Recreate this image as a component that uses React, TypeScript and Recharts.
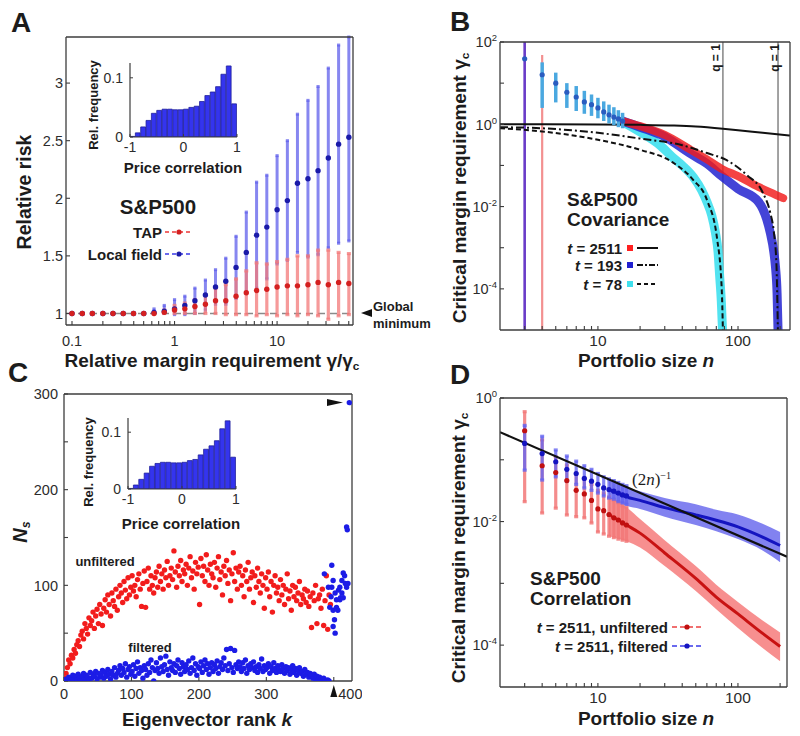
import React from 'react';
import { ComposedChart, Scatter, Line, Area, Bar, XAxis, YAxis, ErrorBar, ReferenceLine } from 'recharts';

const SANS = '"Liberation Sans", Arial, Helvetica, sans-serif';
const SERIF = '"Liberation Serif", "DejaVu Serif", serif';
const AXC = '#3c3c3c';
const TXT = '#1c1c1c';
const TICKC = '#2c2c2c';

// ---------------- Panel A : relative risk ----------------
const aRatio = [0.1, 0.126, 0.158, 0.2, 0.251, 0.316, 0.398, 0.501, 0.631, 0.794, 1, 1.26, 1.58, 2, 2.51, 3.16, 3.98, 5.01, 6.31, 7.94, 10, 12.6, 15.8, 20, 25.1, 31.6, 39.8, 50.1];
const aTapMean = [1, 1, 1, 1, 1, 1, 1, 1, 1, 1.01, 1.03, 1.04, 1.06, 1.08, 1.11, 1.11, 1.15, 1.18, 1.2, 1.21, 1.23, 1.24, 1.24, 1.25, 1.27, 1.25, 1.27, 1.26];
const aTapLow = [1, 1, 1, 1, 1, 1, 1, 1, 1, 1, 1, 1, 1, 1, 1, 0.99, 0.99, 0.99, 0.98, 0.99, 0.98, 0.99, 0.98, 0.99, 0.98, 0.95, 0.98, 0.99];
const aTapHigh = [1, 1, 1, 1, 1, 1, 1, 1, 1.01, 1.03, 1.07, 1.09, 1.12, 1.16, 1.22, 1.25, 1.3, 1.37, 1.44, 1.43, 1.45, 1.47, 1.5, 1.5, 1.55, 1.55, 1.53, 1.52];
const aLocalMean = [1, 1, 1, 1, 1, 1, 1, 1, 1.01, 1.02, 1.04, 1.07, 1.11, 1.16, 1.23, 1.28, 1.4, 1.53, 1.68, 1.75, 1.9, 1.98, 2.13, 2.17, 2.24, 2.35, 2.47, 2.53];
const aLocalLow = [1, 1, 1, 1, 1, 1, 1, 1, 1, 1, 0.99, 0.99, 1, 1.03, 1.08, 1.08, 1.13, 1.18, 1.22, 1.3, 1.43, 1.46, 1.53, 1.49, 1.51, 1.57, 1.61, 1.63];
const aLocalHigh = [1, 1, 1, 1, 1, 1, 1, 1, 1.04, 1.07, 1.12, 1.15, 1.22, 1.29, 1.38, 1.48, 1.67, 1.88, 2.14, 2.2, 2.37, 2.5, 2.73, 2.85, 2.97, 3.13, 3.33, 3.4];
const aXTicks = [0.1, 0.2, 0.3, 0.4, 0.5, 0.6, 0.7, 0.8, 0.9, 1, 2, 3, 4, 5, 6, 7, 8, 9, 10, 20, 30, 40, 50];
const aXLabels = [0.1, 1, 10];
const aYTicks = [1, 1.5, 2, 2.5, 3];

// ---------------- Inset histogram (price correlation) ----------------
const histCenters = [-0.95, -0.85, -0.75, -0.65, -0.55, -0.45, -0.35, -0.25, -0.15, -0.05, 0.05, 0.15, 0.25, 0.35, 0.45, 0.55, 0.65, 0.75, 0.85, 0.95];
const histFreq = [0.001, 0.007, 0.017, 0.028, 0.04, 0.045, 0.047, 0.047, 0.046, 0.046, 0.047, 0.05, 0.052, 0.06, 0.07, 0.076, 0.085, 0.106, 0.12, 0.056];

// ---------------- Panel B : covariance ----------------
const bT2511N = [2, 10, 20, 35, 50, 78, 100, 150, 235];
const bT2511G = [1.0, 0.99, 0.97, 0.93, 0.88, 0.78, 0.72, 0.62, 0.53];
const bT193N = [2, 4, 10, 20, 40, 60, 83, 116, 150, 170, 180, 188, 192.5];
const bT193G = [0.85, 0.8, 0.62, 0.45, 0.31, 0.2, 0.134, 0.058, 0.022, 0.007, 0.0025, 0.0004, 0.00001];
const bT78N = [2, 4, 10, 20, 34, 48, 60, 71, 76.5, 78];
const bT78G = [0.8, 0.67, 0.42, 0.24, 0.12, 0.044, 0.0145, 0.0016, 0.0001, 0.00001];
const bMkN = [3, 4, 5, 6, 7, 8, 9, 10, 11, 12, 13, 14, 15];
const bMkG = [39, 16, 10, 6, 4.6, 3.5, 3.0, 2.5, 2.0, 1.7, 1.5, 1.35, 1.2];
const bMkLo = [39, 2.5, 3.4, 2.5, 2.1, 1.8, 1.6, 1.4, 1.2, 1.05, 0.95, 0.85, 0.8];
const bMkHi = [39, 32, 18, 10, 8.5, 6.5, 5.3, 4.4, 3.6, 3.0, 2.6, 2.2, 1.9];
const bRedN = [15, 20, 30, 45, 60, 78, 100, 140, 170, 210];
const bRedG = [1.2, 0.9, 0.55, 0.25, 0.14, 0.08, 0.055, 0.03, 0.022, 0.016];
const bBlueN = [15, 20, 30, 45, 60, 78, 100, 140, 160, 170, 180, 185, 190, 193];
const bBlueG = [1.2, 0.85, 0.5, 0.2, 0.11, 0.052, 0.027, 0.013, 0.005, 0.0023, 0.0008, 0.00035, 0.00008, 0.00001];
const bCyanN = [15, 20, 28, 34, 40, 48, 55, 60, 65, 69, 72, 74, 76, 77.5];
const bCyanG = [1.15, 0.65, 0.3, 0.16, 0.1, 0.052, 0.025, 0.013, 0.006, 0.0023, 0.0008, 0.0002, 0.00005, 0.00001];
const bXTicks = [3, 4, 5, 6, 7, 8, 9, 10, 20, 30, 40, 50, 60, 70, 80, 90, 100, 200];
const bXLabels = [10, 100];
const bYTicks = [0.0001, 0.001, 0.01, 0.1, 1, 10, 100];
const bYMajors = [-4, -2, 0, 2];

// ---------------- Panel C : eigenvector rank ----------------
const cRankStart = 1;
const cRankStep = 2;
const cUnfiltered = [
  3, 8, 14, 22, 18, 27, 24, 33, 29, 38,
  42, 36, 48, 52, 44, 60, 55, 49, 66, 58,
  63, 72, 55, 68, 75, 60, 80, 70, 58, 76,
  85, 72, 90, 80, 68, 92, 84, 78, 96, 74,
  88, 100, 92, 82, 104, 95, 86, 108, 90, 98,
  110, 94, 100, 88, 106, 112, 96, 78, 102, 115,
  77, 104, 118, 96, 110, 100, 92, 108, 114, 98,
  120, 104, 112, 96, 116, 108, 125, 100, 110, 118,
  106, 136, 114, 98, 120, 110, 126, 104, 116, 112,
  122, 100, 118, 130, 108, 115, 96, 124, 112, 119,
  80, 128, 110, 120, 104, 132, 116, 100, 122, 112,
  108, 124, 98, 118, 130, 106, 114, 90, 120, 110,
  126, 102, 116, 84, 112, 134, 104, 118, 96, 114,
  120, 100, 110, 88, 116, 104, 124, 96, 108, 114,
  82, 110, 98, 118, 104, 92, 112, 100, 76, 108,
  96, 114, 88, 104, 72, 100, 110, 92, 98, 84,
  106, 90, 100, 80, 96, 112, 86, 94, 74, 100,
  88, 98, 84, 92, 104, 80, 90, 86, 96, 82,
  94, 78, 88, 56, 92, 84, 100, 60, 86, 90,
  76, 96, 58, 84, 110, 54, 90, 80,
];
const cFiltered = [
  0, 2, 1, 4, 0, 3, 6, 2, 5, 1,
  7, 3, 0, 5, 8, 2, 6, 4, 1, 9,
  3, 7, 5, 10, 2, 8, 4, 6, 11, 3,
  9, 5, 12, 7, 2, 10, 6, 14, 4, 8,
  11, 16, 6, 13, 9, 18, 4, 12, 15, 7,
  10, 17, 5, 13, 20, 8, 14, 11, 3, 16,
  12, 6, 18, 9, 22, 14, 0, 11, 19, 13,
  8, 24, 15, 10, 17, 26, 12, 6, 20, 14,
  11, 18, 9, 16, 22, 13, 7, 19, 15, 10,
  17, 12, 21, 8, 14, 24, 11, 18, 6, 15,
  13, 20, 9, 16, 22, 12, 18, 7, 14, 19,
  10, 17, 13, 21, 8, 15, 19, 12, 24, 16,
  33, 11, 18, 34, 14, 9, 32, 17, 13, 20,
  15, 10, 19, 13, 22, 8, 16, 12, 18, 14,
  20, 11, 15, 9, 17, 13, 23, 10, 16, 12,
  14, 18, 8, 15, 11, 19, 13, 9, 16, 12,
  10, 17, 13, 8, 15, 11, 14, 7, 12, 16,
  9, 13, 6, 11, 14, 8, 10, 5, 12, 7,
  9, 4, 8, 6, 3, 7, 2, 5, 1, 4,
  2, 0, 3, 1, 0, 1, 0,
];
const cTopRank = [386, 392, 394, 396, 397, 397, 399, 399, 399, 401, 402, 402, 404, 404, 406, 407, 409, 409, 410, 412, 412, 414, 414, 416, 417, 419, 419, 420, 421, 423];
const cTopN = [112, 98, 77, 88, 121, 98, 105, 74, 57, 64, 92, 50, 85, 77, 74, 95, 98, 85, 87, 105, 92, 113, 87, 110, 102, 98, 161, 158, 102, 291];
const cXTicks = [0, 100, 200, 300, 400];
const cYTicks = [0, 50, 100, 150, 200, 250, 300];
const cYLabels = [0, 100, 200, 300];

// ---------------- Panel D : correlation ----------------
const dN = [3, 4, 5, 6, 7, 8, 9, 10, 11, 12, 13, 14, 15, 16];
const dRed = [0.295, 0.08, 0.062, 0.046, 0.032, 0.028, 0.022, 0.016, 0.015, 0.013, 0.0115, 0.0106, 0.0095, 0.0088];
const dRedLo = [0.021, 0.0138, 0.0165, 0.0128, 0.012, 0.0115, 0.0095, 0.0068, 0.0063, 0.0058, 0.0055, 0.0052, 0.005, 0.0048];
const dRedHi = [0.6, 0.21, 0.112, 0.082, 0.06, 0.05, 0.04, 0.032, 0.029, 0.025, 0.022, 0.02, 0.018, 0.017];
const dBlue = [0.184, 0.126, 0.093, 0.07, 0.06, 0.05, 0.045, 0.04, 0.035, 0.033, 0.031, 0.029, 0.027, 0.026];
const dBlueLo = [0.068, 0.047, 0.053, 0.045, 0.04, 0.035, 0.032, 0.029, 0.026, 0.024, 0.023, 0.021, 0.02, 0.019];
const dBlueHi = [0.36, 0.24, 0.144, 0.115, 0.095, 0.08, 0.07, 0.06, 0.053, 0.049, 0.046, 0.043, 0.04, 0.038];
const dBandN = [12, 16, 20, 30, 50, 70, 100, 150, 200];
const dRedMid = [0.013, 0.0088, 0.0065, 0.0031, 0.0012, 0.0006, 0.00032, 0.000155, 0.000095];
const dRedBandLo = [0.0058, 0.0048, 0.0038, 0.0019, 0.00075, 0.00038, 0.00019, 0.00009, 0.000055];
const dRedBandHi = [0.025, 0.017, 0.011, 0.005, 0.0019, 0.00095, 0.0005, 0.00025, 0.00016];
const dBlueMid = [0.033, 0.025, 0.022, 0.0168, 0.0128, 0.0105, 0.0082, 0.0056, 0.0041];
const dBlueBandLo = [0.024, 0.018, 0.016, 0.012, 0.0088, 0.007, 0.0052, 0.0034, 0.0022];
const dBlueBandHi = [0.049, 0.036, 0.031, 0.024, 0.019, 0.0155, 0.013, 0.0092, 0.0068];
const dTheoryN = [2, 224];
const dTheoryG = [0.28, 0.0027];
const dYTicks = [0.0001, 0.001, 0.01, 0.1, 1];
const dYMajors = [-4, -2, 0];

// ---------------- table builders ----------------
const pts = (xs: number[], ys: number[]) => xs.map((x, i) => ({ x, y: ys[i] }));
const errPts = (xs: number[], ys: number[], lo: number[], hi: number[]) =>
  xs.map((x, i) => ({ x, y: ys[i], err: [Math.max(0, ys[i] - lo[i]), Math.max(0, hi[i] - ys[i])] }));
const bandPts = (xs: number[], ys: number[], lo: number[], hi: number[]) => xs.map((x, i) => ({ x, y: ys[i], band: [lo[i], hi[i]] }));
const rankPts = (vals: number[]) => vals.map((v, i) => ({ x: cRankStart + cRankStep * i, y: v }));

const aTapData = errPts(aRatio, aTapMean, aTapLow, aTapHigh);
const aLocalData = errPts(aRatio, aLocalMean, aLocalLow, aLocalHigh);
const histData = histCenters.map((c, i) => ({ c, f: histFreq[i] }));

// ---------------- helpers ----------------
const bottomTick = (fmt: (v: number) => any, fs = 14.5) => (props: any) => {
  const lab = fmt(props.payload.value);
  if (lab === null || lab === undefined) return <g />;
  return (
    <text x={props.x} y={props.y} dy="0.74em" textAnchor="middle" fontSize={fs} fontFamily={SANS} fill={TICKC}>
      {lab}
    </text>
  );
};
const leftTick = (fmt: (v: number) => any, fs = 14.5) => (props: any) => {
  const lab = fmt(props.payload.value);
  if (lab === null || lab === undefined) return <g />;
  return (
    <text x={props.x} y={props.y} dy="0.36em" textAnchor="end" fontSize={fs} fontFamily={SANS} fill={TICKC}>
      {lab}
    </text>
  );
};
const pow10 = (majors: number[]) => (v: number) => {
  const e = Math.round(Math.log10(v));
  if (!majors.includes(e)) return null;
  return (
    <>
      {'10'}
      <tspan dy={-6} fontSize={9.5}>{String(e)}</tspan>
    </>
  );
};
const dot = (fill: string, r: number) => (p: any) => <circle cx={p.cx} cy={p.cy} r={r} fill={fill} />;

const PAD = { l: 56, r: 10, t: 10, b: 36 };

function Panel(p: any) {
  const W = p.w + PAD.l + PAD.r;
  const H = p.h + PAD.t + PAD.b;
  const common = {
    type: 'number' as const,
    allowDataOverflow: true,
    tickSize: -4,
    interval: 0 as const,
    axisLine: { stroke: AXC, strokeWidth: 1.3 },
    tickLine: { stroke: AXC, strokeWidth: 1.1 },
  };
  return (
    <div style={{ position: 'absolute', left: p.x - PAD.l, top: p.y - PAD.t, width: W, height: H }}>
      <ComposedChart width={W} height={H} margin={{ top: 0, right: 0, bottom: 0, left: 0 }}>
        <XAxis xAxisId="b" orientation="bottom" dataKey="x" scale={p.xScale} domain={p.xDomain} ticks={p.xTicks} height={PAD.b} tickMargin={p.xGap} tick={p.xTick || bottomTick(p.xLabel, p.xFs || 14.5)} {...common} />
        <XAxis xAxisId="t" orientation="top" dataKey="x" scale={p.xScale} domain={p.xDomain} ticks={p.xTicks} height={PAD.t} tick={false} {...common} />
        <YAxis yAxisId="l" orientation="left" dataKey="y" scale={p.yScale} domain={p.yDomain} ticks={p.yTicks} width={PAD.l} tickMargin={p.yGap} tick={leftTick(p.yLabel)} {...common} />
        <YAxis yAxisId="r" orientation="right" dataKey="y" scale={p.yScale} domain={p.yDomain} ticks={p.yTicks} width={PAD.r} tick={false} {...common} />
        {p.children}
      </ComposedChart>
    </div>
  );
}

function Hist({ x, y, w, h }: { x: number; y: number; w: number; h: number }) {
  const pl = 44, pb = 26, pt = 2, pr = 4;
  const W = w + pl + pr;
  const H = h + pt + pb;
  return (
    <div style={{ position: 'absolute', left: x - pl, top: y - pt, width: W, height: H }}>
      <ComposedChart width={W} height={H} data={histData} margin={{ top: pt, right: pr, bottom: 0, left: 0 }} barCategoryGap={0} barGap={0}>
        <XAxis dataKey="c" type="number" domain={[-1, 1]} ticks={[-1, 0, 1]} allowDataOverflow height={pb} tickSize={-3} tickMargin={8} interval={0} axisLine={{ stroke: AXC, strokeWidth: 1.2 }} tickLine={{ stroke: AXC }} tick={bottomTick((v) => String(v), 14)} />
        <YAxis type="number" domain={[0, 0.125]} ticks={[0, 0.1]} allowDataOverflow width={pl} tickSize={-3} tickMargin={10} interval={0} axisLine={{ stroke: AXC, strokeWidth: 1.2 }} tickLine={{ stroke: AXC }} tick={leftTick((v) => String(v), 14)} />
        <Bar dataKey="f" barSize={w / 20} fill="#3434ee" stroke="#1f1f9a" strokeWidth={0.8} isAnimationActive={false} />
      </ComposedChart>
    </div>
  );
}

function Tx(props: any) {
  const { x, y, a = 'middle', r = 0, s = 15, w = 700, it = false, f = SANS, c = TXT, children } = props;
  const tx = a === 'middle' ? '-50%' : a === 'end' ? '-100%' : '0%';
  return (
    <div
      style={{
        position: 'absolute', left: x, top: y,
        transform: `translate(${tx}, -50%) rotate(${r}deg)`,
        fontFamily: f, fontSize: s, fontWeight: w, fontStyle: it ? 'italic' : 'normal',
        color: c, whiteSpace: 'nowrap', lineHeight: 1,
      }}
    >
      {children}
    </div>
  );
}
const Sub = ({ children }: any) => <span style={{ fontSize: '0.62em', position: 'relative', top: '0.28em' }}>{children}</span>;
const Sup = ({ children }: any) => <span style={{ fontSize: '0.6em', position: 'relative', top: '-0.55em' }}>{children}</span>;

const cXTick = (props: any) => {
  const v = props.payload.value;
  const common = { fontSize: 14.5, fontFamily: SANS, fill: TICKC };
  if (v === 400) {
    return (
      <g>
        <path d={`M${props.x - 3.5},${props.y + 9} L${props.x},${props.y - 3} L${props.x + 3.5},${props.y + 9} Z`} fill="#111" />
        <text x={props.x + 4.5} y={props.y} dy="0.74em" textAnchor="start" {...common}>400</text>
      </g>
    );
  }
  return <text x={props.x} y={props.y} dy="0.74em" textAnchor="middle" {...common}>{String(v)}</text>;
};

const S = { xAxisId: 'b', yAxisId: 'l' } as const;

export default function App() {
  return (
    <div style={{ position: 'absolute', left: 0, top: 0, width: 800, height: 736, overflow: 'hidden', background: '#fff' }}>
      {/* ---------- A ---------- */}
      <Panel x={66} y={37} w={287} h={288} xScale="log" yScale="linear" xDomain={[0.0874, 55]} yDomain={[0.9, 3.4]}
        xTicks={aXTicks} yTicks={aYTicks} xLabel={(v: number) => (aXLabels.includes(v) ? String(v) : null)} yLabel={(v: number) => String(v)} xGap={14} yGap={7}>
        <ReferenceLine {...S} y={1} stroke="#8a8a8a" strokeWidth={1.6} strokeDasharray="7 5" />
        <Scatter {...S} data={aLocalData} dataKey="y" shape={dot('#1a1aa8', 2.7)} isAnimationActive={false}>
          <ErrorBar dataKey="err" direction="y" width={1.6} stroke="rgba(95,95,235,0.75)" strokeWidth={3} isAnimationActive={false} />
        </Scatter>
        <Scatter {...S} data={aTapData} dataKey="y" shape={dot('#d42020', 2.7)} isAnimationActive={false}>
          <ErrorBar dataKey="err" direction="y" width={2} stroke="rgba(243,120,120,0.75)" strokeWidth={3.2} isAnimationActive={false} />
        </Scatter>
      </Panel>
      <Hist x={130} y={63} w={107} h={74} />

      {/* ---------- B ---------- */}
      <Panel x={500} y={42} w={290} h={288} xScale="log" yScale="log" xDomain={[2, 235]} yDomain={[0.00001, 100]}
        xTicks={bXTicks} yTicks={bYTicks} xLabel={(v: number) => (bXLabels.includes(v) ? String(v) : null)} xFs={15.5} yLabel={pow10(bYMajors)} xGap={9} yGap={7}>
        <ReferenceLine {...S} x={78} stroke="#8c8c8c" strokeWidth={1.6} />
        <ReferenceLine {...S} x={193} stroke="#8c8c8c" strokeWidth={1.6} />
        <ReferenceLine {...S} segment={[{ x: 4, y: 0.00001 }, { x: 4, y: 48 }]} stroke="#f39090" strokeWidth={2.2} />
        <ReferenceLine {...S} x={3} stroke="#6a3cc8" strokeWidth={2.6} />
        <Line {...S} data={pts(bCyanN, bCyanG)} dataKey="y" type="monotone" stroke="#3fe0ee" strokeOpacity={0.9} strokeWidth={9} strokeLinecap="round" dot={false} isAnimationActive={false} />
        <Line {...S} data={pts(bBlueN, bBlueG)} dataKey="y" type="monotone" stroke="#2323d0" strokeOpacity={0.85} strokeWidth={9} strokeLinecap="round" dot={false} isAnimationActive={false} />
        <Line {...S} data={pts(bRedN, bRedG)} dataKey="y" type="monotone" stroke="#f21a1a" strokeOpacity={0.82} strokeWidth={8} strokeLinecap="round" dot={false} isAnimationActive={false} />
        <Line {...S} data={pts(bT2511N, bT2511G)} dataKey="y" type="monotone" stroke="#111" strokeWidth={2} dot={false} isAnimationActive={false} />
        <Line {...S} data={pts(bT193N, bT193G)} dataKey="y" type="monotone" stroke="#111" strokeWidth={2} strokeDasharray="8 3 2 3" dot={false} isAnimationActive={false} />
        <Line {...S} data={pts(bT78N, bT78G)} dataKey="y" type="monotone" stroke="#111" strokeWidth={2} strokeDasharray="5 3" dot={false} isAnimationActive={false} />
        <Scatter {...S} data={errPts(bMkN, bMkG, bMkLo, bMkHi)} dataKey="y" shape={dot('#2a5cc0', 2.6)} isAnimationActive={false}>
          <ErrorBar dataKey="err" direction="y" width={0} stroke="#4aa8e0" strokeWidth={3.5} isAnimationActive={false} />
        </Scatter>
      </Panel>

      {/* ---------- C ---------- */}
      <Panel x={64} y={394} w={288} h={287} xScale="linear" yScale="linear" xDomain={[0, 427]} yDomain={[0, 300]}
        xTicks={cXTicks} yTicks={cYTicks} xTick={cXTick} xLabel={(v: number) => String(v)} yLabel={(v: number) => (cYLabels.includes(v) ? String(v) : null)} xGap={11} yGap={10}>
        <Scatter {...S} data={rankPts(cUnfiltered)} dataKey="y" shape={dot('#f21c1c', 2.7)} isAnimationActive={false} />
        <Scatter {...S} data={rankPts(cFiltered)} dataKey="y" shape={dot('#1c1ce6', 2.7)} isAnimationActive={false} />
        <Scatter {...S} data={pts(cTopRank, cTopN)} dataKey="y" shape={dot('#1c1ce6', 2.7)} isAnimationActive={false} />
      </Panel>
      <Hist x={128} y={418} w={108} h={71} />

      {/* ---------- D ---------- */}
      <Panel x={500} y={398} w={287} h={289} xScale="log" yScale="log" xDomain={[2, 224]} yDomain={[0.000021, 1]}
        xTicks={bXTicks} yTicks={dYTicks} xLabel={(v: number) => (bXLabels.includes(v) ? String(v) : null)} xFs={15.5} yLabel={pow10(dYMajors)} xGap={9} yGap={7}>
        <Area {...S} data={bandPts(dBandN, dRedMid, dRedBandLo, dRedBandHi)} dataKey="band" type="monotone" stroke="none" fill="#f46a6a" fillOpacity={0.75} isAnimationActive={false} />
        <Line {...S} data={pts(dBandN, dRedMid)} dataKey="y" type="monotone" stroke="#c81212" strokeWidth={3} dot={false} isAnimationActive={false} />
        <Scatter {...S} data={errPts(dN, dRed, dRedLo, dRedHi)} dataKey="y" shape={dot('#c01010', 2.6)} isAnimationActive={false}>
          <ErrorBar dataKey="err" direction="y" width={2} stroke="rgba(242,120,120,0.85)" strokeWidth={3.2} isAnimationActive={false} />
        </Scatter>
        <Area {...S} data={bandPts(dBandN, dBlueMid, dBlueBandLo, dBlueBandHi)} dataKey="band" type="monotone" stroke="none" fill="#5252ea" fillOpacity={0.72} isAnimationActive={false} />
        <Line {...S} data={pts(dBandN, dBlueMid)} dataKey="y" type="monotone" stroke="#1414c0" strokeWidth={3} dot={false} isAnimationActive={false} />
        <Scatter {...S} data={errPts(dN, dBlue, dBlueLo, dBlueHi)} dataKey="y" shape={dot('#1414c0', 2.6)} isAnimationActive={false}>
          <ErrorBar dataKey="err" direction="y" width={2} stroke="rgba(100,100,240,0.8)" strokeWidth={3.2} isAnimationActive={false} />
        </Scatter>
        <Line {...S} data={pts(dTheoryN, dTheoryG)} dataKey="y" type="linear" stroke="#111" strokeWidth={2.2} dot={false} isAnimationActive={false} />
      </Panel>

      {/* ---------- overlay graphics (legend samples, arrows) ---------- */}
      <svg width={800} height={736} style={{ position: 'absolute', left: 0, top: 0, pointerEvents: 'none' }}>
        <line x1={165} x2={193} y1={232} y2={232} stroke="#f06868" strokeWidth={2} strokeDasharray="4 3" />
        <circle cx={179} cy={232} r={2.6} fill="#d42020" />
        <line x1={165} x2={193} y1={254} y2={254} stroke="#6a6aee" strokeWidth={2} strokeDasharray="4 3" />
        <circle cx={179} cy={254} r={2.6} fill="#1a1aa8" />
        <path d="M361,313 L372,309 L372,317 Z" fill="#111" />
        <rect x={627} y={245} width={6} height={6} fill="#ff2020" />
        <line x1={637} x2={658} y1={248} y2={248} stroke="#111" strokeWidth={2} />
        <rect x={627} y={262} width={6} height={6} fill="#2020d0" />
        <line x1={637} x2={658} y1={265} y2={265} stroke="#111" strokeWidth={2} strokeDasharray="6 2 2 2" />
        <rect x={627} y={281} width={6} height={6} fill="#3fe0ee" />
        <line x1={637} x2={658} y1={284} y2={284} stroke="#111" strokeWidth={2} strokeDasharray="4 3" />
        <path d="M327,399 L343,402.5 L327,406 Z" fill="#111" />
        <line x1={672} x2={702} y1={627} y2={627} stroke="#f07070" strokeWidth={2} strokeDasharray="5 3" />
        <circle cx={687} cy={627} r={2.6} fill="#c01010" />
        <line x1={672} x2={702} y1={646} y2={646} stroke="#6a6aee" strokeWidth={2} strokeDasharray="5 3" />
        <circle cx={687} cy={646} r={2.6} fill="#1414c0" />
      </svg>

      {/* ---------- texts ---------- */}
      <Tx x={21} y={23} s={28}>A</Tx>
      <Tx x={460} y={22} s={28}>B</Tx>
      <Tx x={18} y={373} s={28}>C</Tx>
      <Tx x={460} y={375} s={28}>D</Tx>

      <Tx x={25} y={192} r={-90} s={19.5}>Relative risk</Tx>
      <Tx x={212} y={360} s={19}>Relative margin requirement γ/γ<Sub>c</Sub></Tx>
      <Tx x={373} y={306} a="start" s={13}>Global</Tx>
      <Tx x={373} y={323} a="start" s={13}>minimum</Tx>
      <Tx x={158} y={207} s={20.5}>S&amp;P500</Tx>
      <Tx x={162} y={232} a="end" s={15}>TAP</Tx>
      <Tx x={162} y={254} a="end" s={15}>Local field</Tx>
      <Tx x={93} y={105} r={-90} s={13}>Rel. frequency</Tx>
      <Tx x={183} y={167} s={15}>Price correlation</Tx>

      <Tx x={459} y={188} r={-90} s={19}>Critical margin requirement γ<Sub>c</Sub></Tx>
      <Tx x={646} y={360} s={19}>Portfolio size <i>n</i></Tx>
      <Tx x={567} y={199} a="start" s={19}>S&amp;P500</Tx>
      <Tx x={567} y={219} a="start" s={19}>Covariance</Tx>
      <Tx x={622} y={248} a="end" s={15}><i>t</i> = 2511</Tx>
      <Tx x={622} y={265} a="end" s={15}><i>t</i> = 193</Tx>
      <Tx x={622} y={284} a="end" s={15}><i>t</i> = 78</Tx>
      <Tx x={716} y={58} r={-90} s={12}>q = 1</Tx>
      <Tx x={775} y={58} r={-90} s={12}>q = 1</Tx>

      <Tx x={20} y={532} r={-90} s={20} it>N<Sub>s</Sub></Tx>
      <Tx x={207} y={719} s={19}>Eigenvector rank <i>k</i></Tx>
      <Tx x={105} y={561} s={13}>unfiltered</Tx>
      <Tx x={150} y={647} s={13}>filtered</Tx>
      <Tx x={88} y={462} r={-90} s={13}>Rel. frequency</Tx>
      <Tx x={181} y={523} s={15}>Price correlation</Tx>

      <Tx x={458} y={548} r={-90} s={19}>Critical margin requirement γ<Sub>c</Sub></Tx>
      <Tx x={646} y={718} s={19}>Portfolio size <i>n</i></Tx>
      <Tx x={530} y={578} a="start" s={19}>S&amp;P500</Tx>
      <Tx x={530} y={598} a="start" s={19}>Correlation</Tx>
      <Tx x={668} y={627} a="end" s={15}><i>t</i> = 2511, unfiltered</Tx>
      <Tx x={668} y={646} a="end" s={15}><i>t</i> = 2511, filtered</Tx>
      <Tx x={632} y={479} a="start" s={17} w={400} f={SERIF}>(2<i>n</i>)<Sup>−1</Sup></Tx>
    </div>
  );
}
